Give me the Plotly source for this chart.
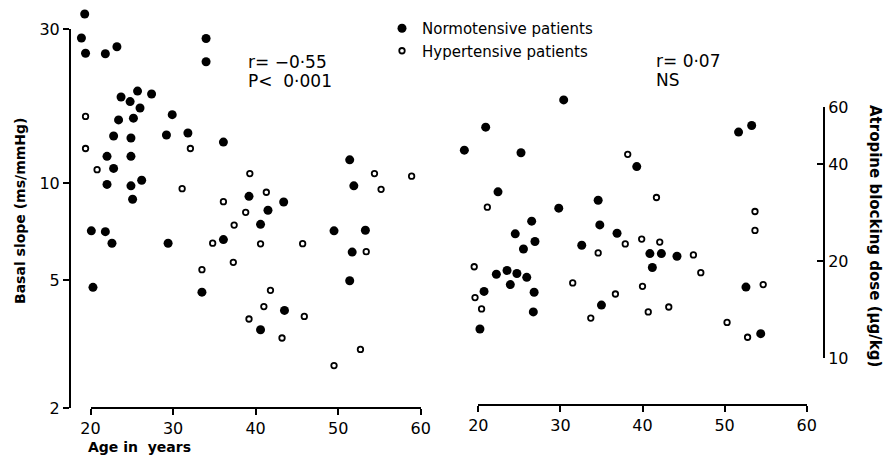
import math
import plotly.graph_objects as go

# ---- Data ----
# Left panel: Basal slope (ms/mmHg) vs age
left_norm_age = [19.3, 18.9, 19.4, 21.8, 23.2, 34.0, 34.0, 23.7, 24.8, 25.7,
                 27.4, 26.0, 29.9, 23.4, 25.2, 22.8, 24.9, 29.2, 31.8, 36.1,
                 22.0, 24.9, 22.8, 22.0, 24.9, 26.2, 25.1, 20.1, 21.8, 22.6,
                 29.4, 36.1, 20.3, 33.5, 39.2, 41.5, 43.4, 40.6, 51.4, 51.9,
                 49.5, 53.3, 51.7, 51.4, 43.5, 40.6]
left_norm_slope = [33.5, 28.2, 25.3, 25.2, 26.5, 28.1, 23.8, 18.5, 17.9, 19.3,
                   18.9, 17.1, 16.3, 15.7, 15.9, 14.0, 13.8, 14.1, 14.3, 13.4,
                   12.1, 12.1, 11.1, 9.9, 9.8, 10.2, 8.9, 7.1, 7.06, 6.5,
                   6.5, 6.67, 4.74, 4.58, 9.09, 8.23, 8.73, 7.44, 11.8, 9.8,
                   7.1, 7.13, 6.1, 4.97, 4.02, 3.5]
left_hyp_age = [19.4, 19.4, 20.8, 32.1, 31.1, 36.1, 37.4, 34.8, 37.3, 33.5,
                39.3, 41.3, 38.8, 40.6, 45.7, 41.8, 41.0, 39.2, 45.9, 43.2,
                54.4, 55.2, 58.9, 53.4, 52.7, 49.5]
left_hyp_slope = [16.1, 12.8, 11.0, 12.8, 9.6, 8.75, 7.4, 6.5, 5.67, 5.38,
                  10.7, 9.36, 8.11, 6.47, 6.48, 4.64, 4.13, 3.78, 3.85, 3.30,
                  10.7, 9.56, 10.5, 6.12, 3.04, 2.71]

# Right panel: Atropine blocking dose (ug/kg) vs age
right_norm_age = [30.4, 20.9, 18.3, 25.2, 39.3, 22.4, 34.6, 29.8, 26.5, 34.8,
                  24.5, 26.9, 36.9, 32.6, 25.5, 22.2, 23.5, 24.7, 25.9, 23.9,
                  20.7, 26.8, 26.7, 20.2, 35.0, 51.7, 53.3, 40.9, 42.3, 44.2,
                  41.2, 52.6, 54.4]
right_norm_dose = [63.3, 52.1, 44.2, 43.4, 39.3, 32.8, 30.9, 29.2, 26.6, 25.9,
                   24.3, 23.0, 24.4, 22.4, 21.8, 18.2, 18.7, 18.3, 17.8, 16.9,
                   16.1, 16.0, 13.9, 12.3, 14.6, 50.3, 52.7, 21.1, 21.1, 20.7,
                   19.1, 16.6, 11.9]
right_hyp_age = [38.2, 21.1, 37.9, 39.9, 34.6, 19.5, 19.6, 20.4, 31.5, 36.7,
                 33.7, 40.0, 41.7, 53.7, 53.7, 42.1, 46.2, 47.1, 54.7, 40.7,
                 43.2, 50.3, 52.8]
right_hyp_dose = [42.9, 29.4, 22.6, 23.4, 21.2, 19.2, 15.4, 14.2, 17.1, 15.8,
                  13.3, 16.7, 31.5, 28.5, 24.9, 22.9, 20.9, 18.4, 16.9, 13.9,
                  14.4, 12.9, 11.6]

age_ticks = [20, 30, 40, 50, 60]
slope_ticks = [2, 5, 10, 30]
dose_ticks = [10, 20, 40, 60]

W, H = 885, 458
FONT = "DejaVu Sans"

# ---- Layout geometry (pixels) ----
# left panel: visible axes
LX0, LX1 = 90.5, 420.7      # px of age 20 and 60
LY_LO, LY_HI = 408.0, 29.4  # px of slope 2 and 30
LYAX = 70.0                 # px of left y-axis line
# right panel
RX0, RX1 = 478.3, 806.7
RXAX_Y = 404.5
RY_LO, RY_HI = 358.0, 107.4  # px of dose 10 and 60
RYAX = 824.0


def xrange_for(px_a, px_b, X0, X1, v0, v1):
    k = (v1 - v0) / (X1 - X0)
    return [v0 + (px_a - X0) * k, v0 + (px_b - X0) * k]


def logrange_for(py_bottom, py_top, Y0, Y1, v0, v1):
    l0, l1 = math.log10(v0), math.log10(v1)
    k = (l1 - l0) / (Y0 - Y1)
    return [l0 + (Y0 - py_bottom) * k, l0 + (Y0 - py_top) * k]


filled = dict(symbol="circle", size=9, color="black", line=dict(width=0))
hollow = dict(symbol="circle", size=5.5, color="white", line=dict(width=1.8, color="black"))

fig = go.Figure()
# empty traces so the visible axes form subplots
fig.add_trace(go.Scatter(x=[], y=[], xaxis="x", yaxis="y", showlegend=False, hoverinfo="skip"))
fig.add_trace(go.Scatter(x=[], y=[], xaxis="x2", yaxis="y2", showlegend=False, hoverinfo="skip"))
# data traces on hidden axes with the same scale but wider extent
fig.add_trace(go.Scatter(x=left_norm_age, y=left_norm_slope, mode="markers",
                         marker=filled, name="Normotensive patients",
                         xaxis="x3", yaxis="y3", cliponaxis=False))
fig.add_trace(go.Scatter(x=left_hyp_age, y=left_hyp_slope, mode="markers",
                         marker=hollow, name="Hypertensive patients",
                         xaxis="x3", yaxis="y3", cliponaxis=False))
fig.add_trace(go.Scatter(x=right_norm_age, y=right_norm_dose, mode="markers",
                         marker=filled, showlegend=False,
                         xaxis="x4", yaxis="y4", cliponaxis=False))
fig.add_trace(go.Scatter(x=right_hyp_age, y=right_hyp_dose, mode="markers",
                         marker=hollow, showlegend=False,
                         xaxis="x4", yaxis="y4", cliponaxis=False))

axis_common = dict(showline=True, linecolor="black", linewidth=2, showgrid=False,
                   zeroline=False, ticks="outside", ticklen=6, tickwidth=2,
                   tickcolor="black", automargin=False, fixedrange=True,
                   tickfont=dict(family=FONT, size=16, color="black"))
hidden = dict(visible=False, showgrid=False, zeroline=False, automargin=False,
              fixedrange=True, anchor="free", position=0)

# hidden data-axis extents (px)
HL_X = (55, 450)
HL_Y = (445, 0)
HR_X = (450, 840)
HR_Y = (420, 60)

fig.update_layout(
    width=W, height=H,
    margin=dict(l=0, r=0, t=0, b=0, autoexpand=False),
    paper_bgcolor="white", plot_bgcolor="rgba(0,0,0,0)",
    font=dict(family=FONT, color="black"),
    xaxis=dict(axis_common, domain=[LX0 / W, LX1 / W], range=[20, 60],
               tickvals=age_ticks, anchor="free", position=1 - LY_LO / H),
    yaxis=dict(axis_common, type="log", domain=[1 - LY_LO / H, 1 - LY_HI / H],
               range=[math.log10(2), math.log10(30)], tickvals=slope_ticks,
               ticktext=[str(v) for v in slope_ticks],
               anchor="free", position=LYAX / W),
    xaxis2=dict(axis_common, domain=[RX0 / W, RX1 / W], range=[20, 60],
                tickvals=age_ticks, anchor="free", position=1 - RXAX_Y / H),
    yaxis2=dict(axis_common, type="log", domain=[1 - RY_LO / H, 1 - RY_HI / H],
                range=[1, math.log10(60)], tickvals=dose_ticks,
                ticktext=[str(v) for v in dose_ticks],
                ticks="inside", side="right", anchor="free", position=RYAX / W),
    xaxis3=dict(hidden, domain=[HL_X[0] / W, HL_X[1] / W],
                range=xrange_for(HL_X[0], HL_X[1], LX0, LX1, 20, 60)),
    yaxis3=dict(hidden, type="log", domain=[1 - HL_Y[0] / H, 1 - HL_Y[1] / H],
                range=logrange_for(HL_Y[0], HL_Y[1], LY_LO, LY_HI, 2, 30)),
    xaxis4=dict(hidden, domain=[HR_X[0] / W, HR_X[1] / W],
                range=xrange_for(HR_X[0], HR_X[1], RX0, RX1, 20, 60)),
    yaxis4=dict(hidden, type="log", domain=[1 - HR_Y[0] / H, 1 - HR_Y[1] / H],
                range=logrange_for(HR_Y[0], HR_Y[1], RY_LO, RY_HI, 10, 60)),
    legend=dict(x=382 / W, y=1 - 12 / H, xanchor="left", yanchor="top",
                bgcolor="rgba(0,0,0,0)", font=dict(family=FONT, size=15),
                itemwidth=30, tracegroupgap=0),
    showlegend=True,
)

ann_font = dict(family=FONT, size=17, color="black")
for txt, x, y in [("r= −0·55", 246, 62), ("P<  0·001", 246, 81),
                  ("r= 0·07", 654, 61), ("NS", 654, 80)]:
    fig.add_annotation(xref="paper", yref="paper", x=x / W, y=1 - y / H,
                       text=txt, showarrow=False, xanchor="left",
                       yanchor="middle", font=ann_font)

lab_font = dict(family=FONT, size=14, color="black", weight="bold")
fig.add_annotation(xref="paper", yref="paper", x=20 / W, y=1 - 211 / H,
                   text="Basal slope (ms/mmHg)", showarrow=False, textangle=-90,
                   xanchor="center", yanchor="middle", font=lab_font)
fig.add_annotation(xref="paper", yref="paper", x=86 / W, y=1 - 447 / H,
                   text="Age in  years", showarrow=False, xanchor="left",
                   yanchor="middle", font=lab_font)
fig.add_annotation(xref="paper", yref="paper", x=875 / W, y=1 - 236 / H,
                   text="Atropine blocking dose (µg/kg)", showarrow=False,
                   textangle=90, xanchor="center", yanchor="middle",
                   font=dict(lab_font, size=15))

fig.write_html("out.html",
               config={"displayModeBar": False, "staticPlot": True},
               post_script="document.body.style.margin='0';"
                           "document.body.style.overflow='hidden';")
